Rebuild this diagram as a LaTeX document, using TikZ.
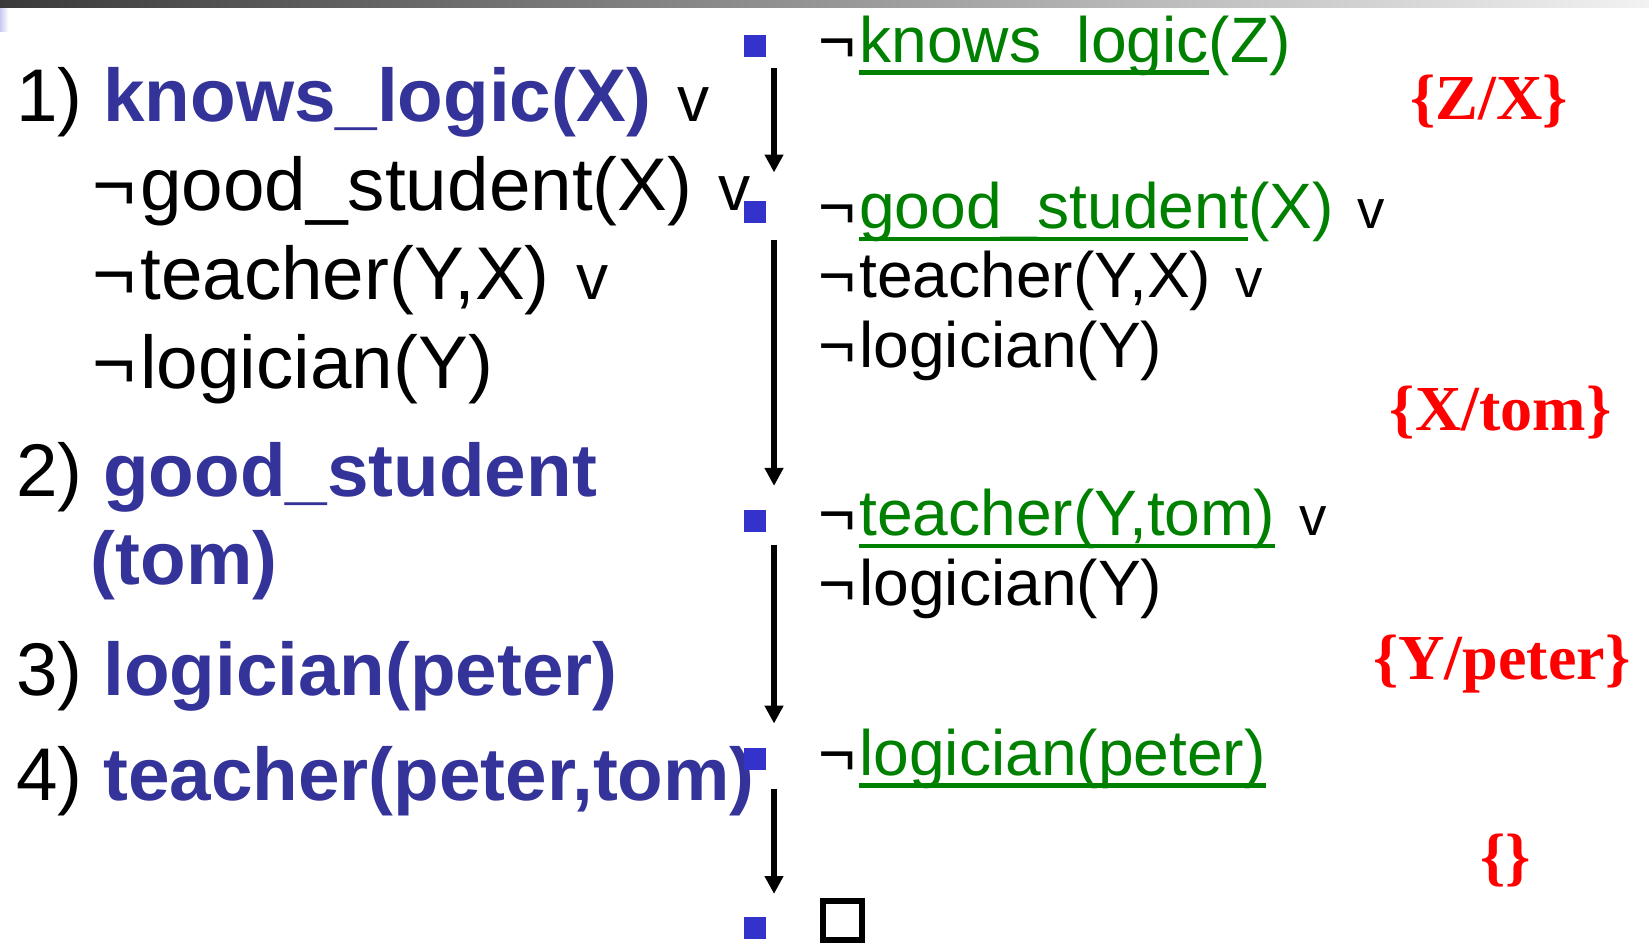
\documentclass[tikz,border=0pt]{standalone}
\usepackage{fontspec}
\setmainfont{Liberation Sans}
\newfontfamily\substfont{Liberation Serif}
\usetikzlibrary{arrows.meta}

\definecolor{factblue}{RGB}{51,51,153}
\definecolor{bulletblue}{RGB}{51,51,204}
\definecolor{litgreen}{RGB}{0,128,0}
\definecolor{substred}{RGB}{255,0,0}
\definecolor{bardark}{RGB}{58,58,58}
\definecolor{barlight}{RGB}{242,242,242}
\definecolor{tablilac}{RGB}{200,200,240}

% underline a resolved literal with a rule in the current colour
\newcommand\ulit[1]{\setbox0\hbox{#1}\rlap{\rule[-6pt]{\wd0}{2pt}}\box0}
% negation sign with a little air before the literal
\newcommand\negsym{¬\kern0.05em}
% the small "or" sign between literals (clause list / resolvents)
\newcommand\orL{\hspace{12.5pt}{\color{black}\fontsize{30.5}{36}\selectfont v}}
\newcommand\orR{\hspace{11.5pt}{\color{black}\fontsize{26}{31}\selectfont v}}

\begin{document}
\begin{tikzpicture}[x=0.5pt,y=-0.5pt,
  clause/.style={anchor=base west, inner sep=0pt, font=\fontsize{35.5}{42}\selectfont},
  fact/.style={text=factblue, font=\bfseries\fontsize{35.5}{42}\selectfont},
  goal/.style={anchor=base west, inner sep=0pt, font=\fontsize{30.5}{36}\selectfont},
  subst/.style={anchor=base, inner sep=0pt, text=substred, font=\substfont\bfseries\fontsize{30.5}{36}\selectfont},
  bullet/.style={fill=bulletblue, draw=none, minimum size=10.5pt, inner sep=0pt},
  resarrow/.style={line width=2.5pt, -{Triangle[length=8.5pt,width=8.5pt]}},
]
\useasboundingbox (0,0) rectangle (1568,905);

% title bar and tab mark
\shade[left color=bardark, right color=barlight] (0,0) rectangle (1568,7);
\shade[left color=tablilac, right color=white] (0,8) rectangle (8,30);

% knowledge base
\node[clause] (c1) at (15,116) {1) \textcolor{factblue}{\bfseries knows\_logic(X)}\orL};
\node[clause] (c1b) at (88,200) {\negsym good\_student(X)\orL};
\node[clause] (c1c) at (88,285) {\negsym teacher(Y,X)\orL};
\node[clause] (c1d) at (88,369) {\negsym logician(Y)};
\node[clause] (c2) at (15,472) {2) \textcolor{factblue}{\bfseries good\_student}};
\node[clause, fact] (c2b) at (86,556) {(tom)};
\node[clause] (c3) at (15,661) {3) \textcolor{factblue}{\bfseries logician(peter)}};
\node[clause] (c4) at (15,761) {4) \textcolor{factblue}{\bfseries teacher(peter,tom)}};

% resolution steps
\node[bullet] (b1) at (718,44) {};
\node[bullet] (b2) at (718,202) {};
\node[bullet] (b3) at (718,495) {};
\node[bullet] (b4) at (718,722) {};
\node[bullet] (b5) at (718,882) {};

\node[goal] (g1) at (778,59) {\negsym\textcolor{litgreen}{\ulit{knows\_logic}(Z)}};
\node[goal] (g2) at (778,217) {\negsym\textcolor{litgreen}{\ulit{good\_student}(X)}\orR};
\node[goal] (g2b) at (778,283) {\negsym teacher(Y,X)\orR};
\node[goal] (g2c) at (778,349) {\negsym logician(Y)};
\node[goal] (g3) at (778,509) {\negsym\textcolor{litgreen}{\ulit{teacher(Y,tom)}}\orR};
\node[goal] (g3b) at (778,576) {\negsym logician(Y)};
\node[goal] (g4) at (778,737) {\negsym\textcolor{litgreen}{\ulit{logician(peter)}}};
\node[draw, line width=3pt, minimum size=18.5pt, inner sep=0pt] (empty) at (801,875) {};

% substitutions
\node[subst] (s1) at (1416,114) {\{Z/X\}};
\node[subst] (s2) at (1427,409) {\{X/tom\}};
\node[subst] (s3) at (1428,646) {\{Y/peter\}};
\node[subst] (s4) at (1432,835) {\{\}};

% derivation arrows
\coordinate (a1s) at (736,65);  \coordinate (a1e) at (736,164);
\coordinate (a2s) at (736,228); \coordinate (a2e) at (736,462);
\coordinate (a3s) at (736,518); \coordinate (a3e) at (736,688);
\coordinate (a4s) at (736,750); \coordinate (a4e) at (736,850);
\draw[resarrow] (a1s) -- (a1e);
\draw[resarrow] (a2s) -- (a2e);
\draw[resarrow] (a3s) -- (a3e);
\draw[resarrow] (a4s) -- (a4e);
\end{tikzpicture}
\end{document}
